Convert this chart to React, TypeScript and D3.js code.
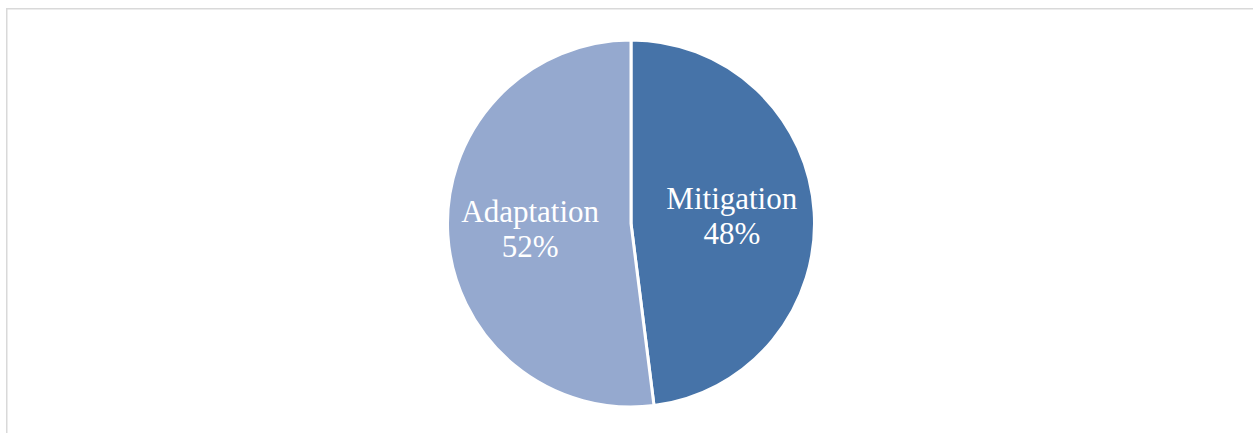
import React from "react";
import * as d3 from "d3";

// Share of climate finance by purpose (percent)
const categories = ["Mitigation", "Adaptation"];
const shares = [48, 52];
const colors = ["#4673a8", "#95a9cf"];

const W = 1253;
const H = 433;
const CX = 631;
const CY = 223.5;
const R = 183.5;
const LABEL_R = 101;

export default function App() {
  const data = categories.map((c, i) => ({ name: c, value: shares[i], color: colors[i] }));
  const pie = d3
    .pie<{ name: string; value: number; color: string }>()
    .value((d) => d.value)
    .sort(null);
  const arcs = pie(data);
  const arcGen = d3
    .arc<d3.PieArcDatum<{ name: string; value: number; color: string }>>()
    .innerRadius(0)
    .outerRadius(R);
  const labelArc = d3
    .arc<d3.PieArcDatum<{ name: string; value: number; color: string }>>()
    .innerRadius(LABEL_R)
    .outerRadius(LABEL_R);

  return (
    <svg
      width={W}
      height={H}
      style={{ position: "absolute", left: 0, top: 0 }}
      fontFamily="'Liberation Serif', 'Times New Roman', serif"
    >
      <rect x={0} y={0} width={W} height={H} fill="#ffffff" />
      <rect
        x={6.75}
        y={8.75}
        width={W + 10}
        height={H + 10}
        fill="none"
        stroke="#d9d9d9"
        strokeWidth={1.5}
      />
      <g transform={`translate(${CX},${CY})`}>
        {arcs.map((a) => (
          <path
            key={a.data.name}
            d={arcGen(a) || ""}
            fill={a.data.color}
            stroke="#ffffff"
            strokeWidth={3}
            strokeLinejoin="round"
          />
        ))}
        {arcs.map((a) => {
          const [lx, ly] = labelArc.centroid(a);
          return (
            <text
              key={a.data.name + "-label"}
              x={lx}
              y={ly}
              textAnchor="middle"
              fill="#ffffff"
              fontSize={31}
            >
              <tspan x={lx} y={ly - 8}>
                {a.data.name}
              </tspan>
              <tspan x={lx} y={ly + 27}>
                {`${a.data.value}%`}
              </tspan>
            </text>
          );
        })}
      </g>
    </svg>
  );
}
